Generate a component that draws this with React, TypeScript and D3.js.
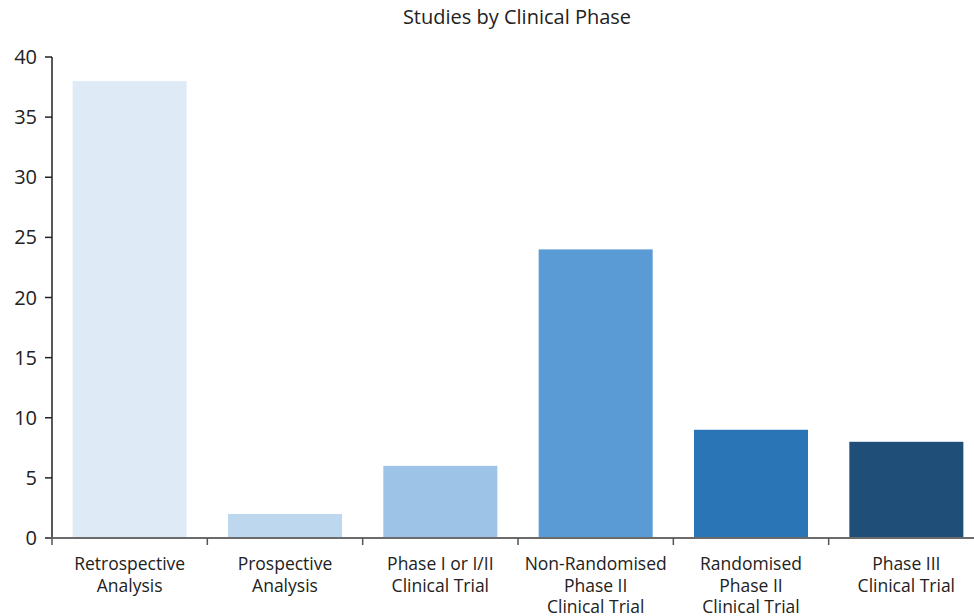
import React from "react";
import * as d3 from "d3";

const categories = [
  ["Retrospective", "Analysis"],
  ["Prospective", "Analysis"],
  ["Phase I or I/II", "Clinical Trial"],
  ["Non-Randomised", "Phase II", "Clinical Trial"],
  ["Randomised", "Phase II", "Clinical Trial"],
  ["Phase III", "Clinical Trial"],
];
const values = [38, 2, 6, 24, 9, 8];
const colors = ["#deebf7", "#bdd7ee", "#9dc3e6", "#5b9bd5", "#2a75b6", "#1f4e79"];
const yTicks = [0, 5, 10, 15, 20, 25, 30, 35, 40];
const title = "Studies by Clinical Phase";

const W = 974;
const H = 616;
const FONT = "'Open Sans', sans-serif";

export default function App() {
  const keys = categories.map((c) => c.join(" "));
  const x = d3.scaleBand<string>().domain(keys).range([52, 984]).paddingInner(0.266).paddingOuter(0.133);
  const y = d3.scaleLinear().domain([0, 40]).range([538, 57]);
  const step = x.step();
  const half = (step * x.paddingInner()) / 2;
  const boundaries = keys.map((k) => (x(k) as number) - half);

  return (
    <div style={{ position: "absolute", left: 0, top: 0 }}>
      <svg width={W} height={H} style={{ display: "block", background: "#fff" }}>
        <text x={517} y={24} textAnchor="middle" fontFamily={FONT} fontSize={20} fill="#222">
          {title}
        </text>
        {values.map((v, i) => (
          <rect
            key={i}
            x={x(keys[i])}
            y={y(v)}
            width={x.bandwidth()}
            height={y(0) - y(v)}
            fill={colors[i]}
          />
        ))}
        {/* y axis */}
        <line x1={52} x2={52} y1={y(40)} y2={y(0)} stroke="#222" strokeWidth={1.5} />
        {yTicks.map((t) => (
          <g key={t}>
            <line x1={45} x2={52} y1={y(t)} y2={y(t)} stroke="#222" strokeWidth={1.5} />
            <text x={37} y={y(t)} dy="0.35em" textAnchor="end" fontFamily={FONT} fontSize={20} fill="#222">
              {t}
            </text>
          </g>
        ))}
        {/* x axis */}
        <line x1={51} x2={W} y1={y(0)} y2={y(0)} stroke="#6b6b6b" strokeWidth={2} />
        {boundaries.map((b, i) => (
          <line key={i} x1={b} x2={b} y1={y(0)} y2={y(0) + 7} stroke="#555" strokeWidth={1.5} />
        ))}
        {categories.map((lines, i) => (
          <text
            key={i}
            x={(x(keys[i]) as number) + x.bandwidth() / 2}
            y={570}
            textAnchor="middle"
            fontFamily={FONT}
            fontSize={17.5}
            fill="#222"
          >
            {lines.map((l, j) => (
              <tspan key={j} x={(x(keys[i]) as number) + x.bandwidth() / 2} dy={j === 0 ? 0 : 21.5}>
                {l}
              </tspan>
            ))}
          </text>
        ))}
      </svg>
    </div>
  );
}
